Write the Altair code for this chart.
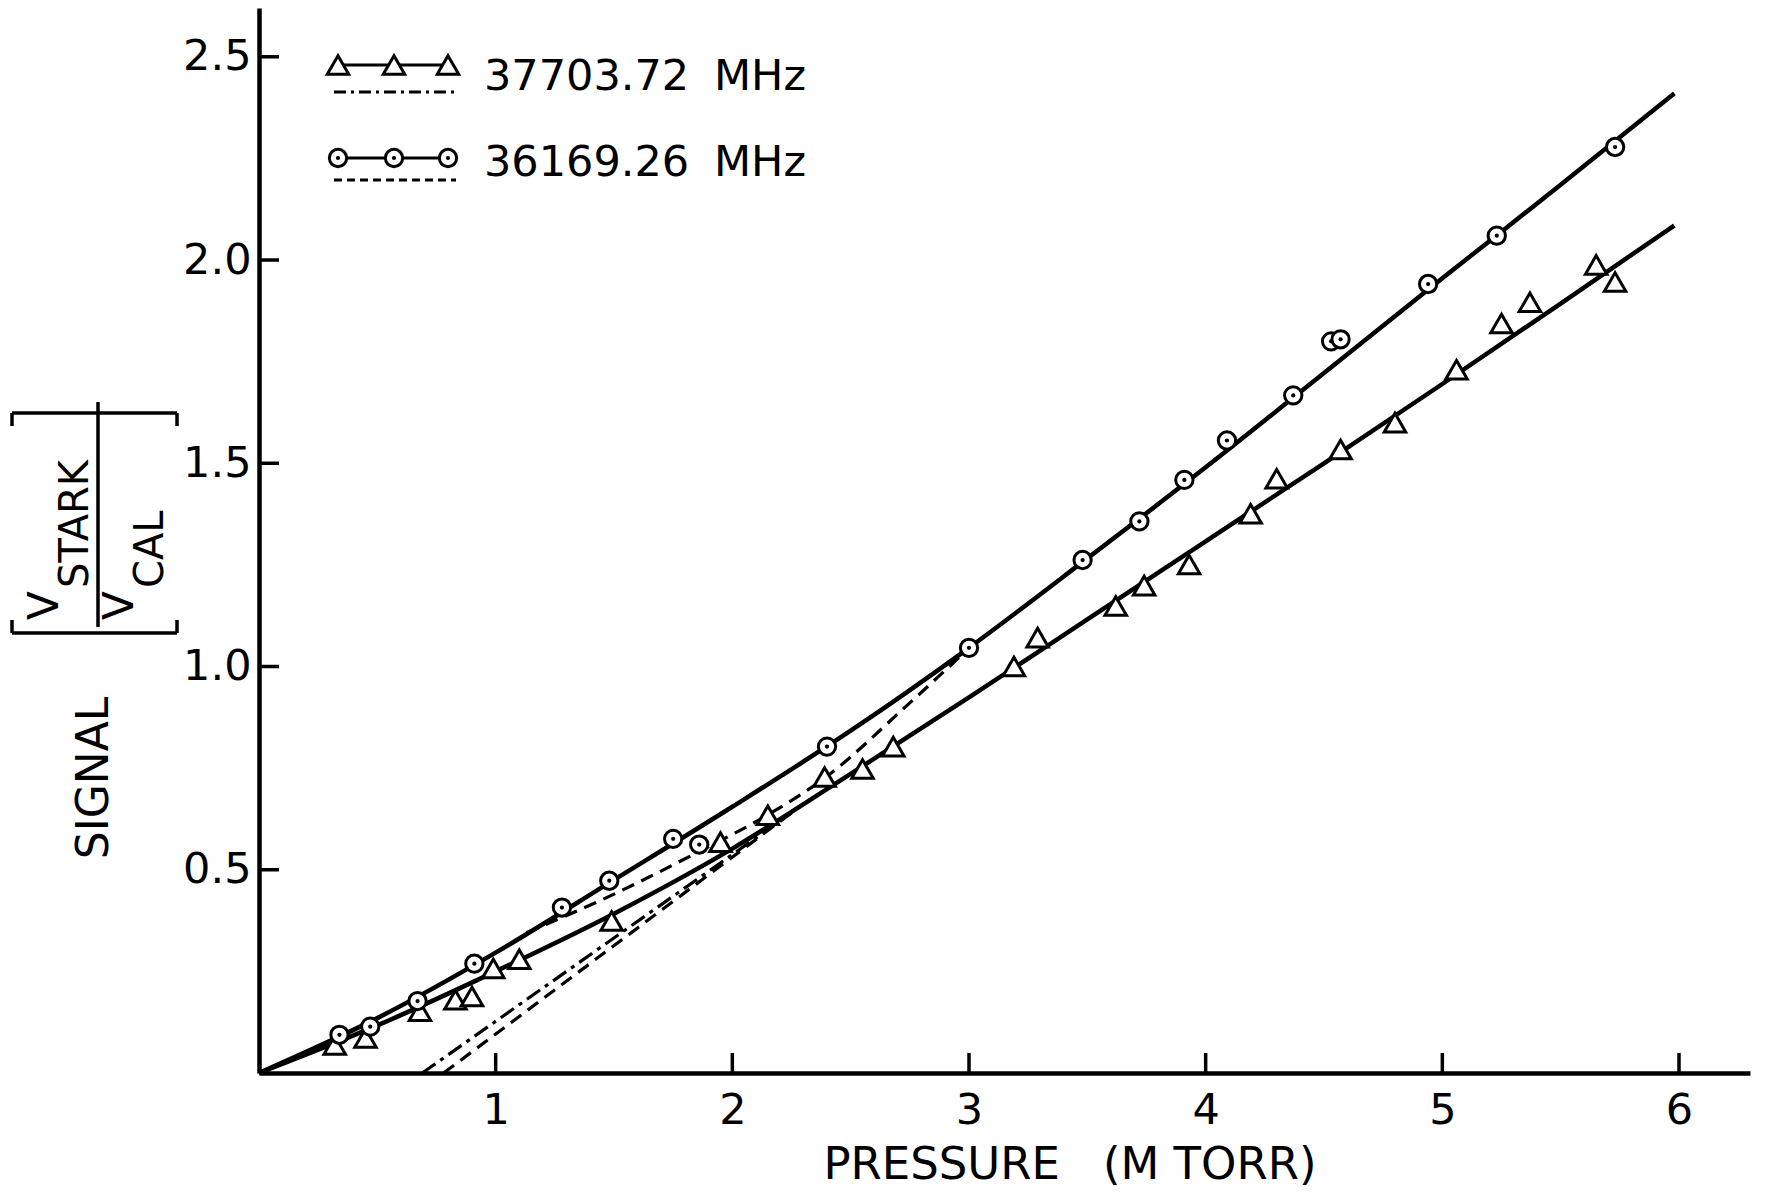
import altair as alt
import pandas as pd

# ---------------- data ----------------
# 36169.26 MHz  (circles)
circ_p = [0.34, 0.47, 0.67, 0.91, 1.28, 1.48, 1.75, 1.86, 2.40, 3.00, 3.48, 3.72, 3.91,
          4.09, 4.37, 4.53, 4.57, 4.94, 5.23, 5.73]
circ_s = [0.094, 0.114, 0.177, 0.269, 0.407, 0.473, 0.576, 0.562, 0.803, 1.046, 1.262,
          1.357, 1.459, 1.556, 1.667, 1.800, 1.805, 1.941, 2.060, 2.278]

# 37703.72 MHz  (triangles)
tri_p = [0.32, 0.45, 0.68, 0.83, 0.90, 0.99, 1.10, 1.49, 1.95, 2.15, 2.39, 2.55, 2.68,
         3.19, 3.29, 3.62, 3.74, 3.93, 4.19, 4.30, 4.57, 4.80, 5.06, 5.25, 5.37, 5.65, 5.73]
tri_s = [0.069, 0.086, 0.152, 0.180, 0.188, 0.257, 0.280, 0.374, 0.568, 0.634, 0.728,
         0.748, 0.803, 1.000, 1.071, 1.149, 1.199, 1.251, 1.376, 1.462, 1.534, 1.600,
         1.730, 1.844, 1.896, 1.988, 1.946]

# smooth curves drawn through the points
circ_curve_p = [0, 0.5, 1.0, 1.5, 2.0, 2.5, 3.0, 3.5, 4.0, 4.5, 5.0, 5.5, 5.98]
circ_curve_s = [0, 0.135, 0.296, 0.475, 0.655, 0.842, 1.046, 1.266, 1.490, 1.722, 1.955, 2.185, 2.410]
tri_curve_p = [0, 0.5, 1.0, 1.5, 2.0, 2.5, 3.0, 3.5, 4.0, 4.5, 5.0, 5.5, 5.98]
tri_curve_s = [0, 0.117, 0.250, 0.392, 0.552, 0.736, 0.924, 1.116, 1.308, 1.500, 1.695, 1.893, 2.085]

# dashed (36169.26) and dash-dot (37703.72) construction lines
dashA_p = [1.13, 1.50, 1.86, 2.15, 2.40, 2.73, 3.00]
dashA_s = [0.345, 0.440, 0.545, 0.635, 0.730, 0.900, 1.045]
dashB_p = [0.78, 2.25]
dashB_s = [0.0, 0.64]
dashdot_p = [0.69, 2.25]
dashdot_s = [0.0, 0.64]

x_ticks = [1, 2, 3, 4, 5, 6]
y_ticks = [0.5, 1.0, 1.5, 2.0, 2.5]

legend_labels = ["37703.72", "36169.26"]
legend_unit = "MHz"
x_title = "PRESSURE\u00a0\u00a0\u00a0(M\u00a0TORR)"

# ---------------- chart ----------------
W, H = 1491, 1065
FONT = "DejaVu Sans"
xs = alt.Scale(domain=[0, 6.3], nice=False, zero=False)
ys = alt.Scale(domain=[0, 2.62], nice=False, zero=False)
XA = alt.Axis(values=x_ticks, format="d", title=None, grid=False, ticks=False,
              tickSize=0, domainWidth=4.5, domainColor="black", labelFont=FONT,
              labelFontSize=43, labelColor="black", labelPadding=16, labelFlush=False)
YA = alt.Axis(values=y_ticks, format=".1f", title=None, grid=False, ticks=False,
              tickSize=0, domainWidth=4.5, domainColor="black", labelFont=FONT,
              labelFontSize=43, labelColor="black", labelPadding=8, labelFlush=False)
one = pd.DataFrame({"k": [0]})

TRI_SIZE = 460
CIRC_SIZE = 300


def curve(px, py, dash=None, width=4.0):
    df = pd.DataFrame({"p": px, "s": py})
    kw = dict(color="black", strokeWidth=width, interpolate="monotone")
    if dash:
        kw["strokeDash"] = dash
    return alt.Chart(df).mark_line(**kw).encode(
        x=alt.X("p:Q", scale=xs, axis=XA),
        y=alt.Y("s:Q", scale=ys, axis=YA),
    )


def hrule(x1, x2, y, w=3.5, dash=None):
    kw = dict(color="black", strokeWidth=w)
    if dash:
        kw["strokeDash"] = dash
    return alt.Chart(one).mark_rule(**kw).encode(
        x=alt.value(x1), x2=alt.value(x2), y=alt.value(y))


def vrule(x, y1, y2, w=3.5):
    return alt.Chart(one).mark_rule(color="black", strokeWidth=w).encode(
        x=alt.value(x), y=alt.value(y1), y2=alt.value(y2))


def label(text, x, y, size, angle=0, align="left", baseline="alphabetic"):
    return alt.Chart(one).mark_text(
        text=text, font=FONT, fontSize=size, angle=angle, align=align,
        baseline=baseline, color="black").encode(x=alt.value(x), y=alt.value(y))


layers = []
layers.append(curve(circ_curve_p, circ_curve_s, width=4.5))
layers.append(curve(tri_curve_p, tri_curve_s, width=4.5))
layers.append(curve(dashA_p, dashA_s, dash=[13, 8], width=3.2))
layers.append(curve(dashB_p, dashB_s, dash=[13, 8], width=3.2))
layers.append(curve(dashdot_p, dashdot_s, dash=[16, 6, 4, 6], width=3.2))

# inward ticks
layers.append(alt.Chart(pd.DataFrame({"t": x_ticks})).mark_rule(color="black", strokeWidth=3.5).encode(
    x=alt.X("t:Q", scale=xs, axis=XA), y=alt.value(H), y2=alt.value(H - 20)))
layers.append(alt.Chart(pd.DataFrame({"t": y_ticks})).mark_rule(color="black", strokeWidth=3.5).encode(
    y=alt.Y("t:Q", scale=ys, axis=YA), x=alt.value(0), x2=alt.value(20)))

# markers
df_c = pd.DataFrame({"p": circ_p, "s": circ_s})
df_t = pd.DataFrame({"p": tri_p, "s": tri_s})
enc = dict(x=alt.X("p:Q", scale=xs, axis=XA), y=alt.Y("s:Q", scale=ys, axis=YA))
layers.append(alt.Chart(df_t).mark_point(shape="triangle-up", filled=True, fill="white",
                                         stroke="black", strokeWidth=3, size=TRI_SIZE, opacity=1).encode(**enc))
layers.append(alt.Chart(df_c).mark_point(shape="circle", filled=True, fill="white",
                                         stroke="black", strokeWidth=3, size=CIRC_SIZE, opacity=1).encode(**enc))
layers.append(alt.Chart(df_c).mark_point(shape="circle", filled=True, color="black",
                                         size=18, opacity=1).encode(**enc))

# legend
leg_x = pd.DataFrame({"lx": [79, 135, 189]})
layers.append(hrule(79, 189, 57, w=3))
layers.append(alt.Chart(leg_x).mark_point(shape="triangle-up", filled=True, fill="white",
                                          stroke="black", strokeWidth=3, size=TRI_SIZE, opacity=1).encode(
    x=alt.X("lx:Q", scale=None), y=alt.value(57)))
layers.append(hrule(75, 197, 84, w=3.2, dash=[12, 5, 3, 5]))
layers.append(hrule(79, 189, 150, w=3))
layers.append(alt.Chart(leg_x).mark_point(shape="circle", filled=True, fill="white",
                                          stroke="black", strokeWidth=3, size=CIRC_SIZE, opacity=1).encode(
    x=alt.X("lx:Q", scale=None), y=alt.value(150)))
layers.append(alt.Chart(leg_x).mark_point(shape="circle", filled=True, color="black",
                                          size=18, opacity=1).encode(
    x=alt.X("lx:Q", scale=None), y=alt.value(150)))
layers.append(hrule(75, 197, 172, w=3.2, dash=[8, 5]))
layers.append(label(legend_labels[0], 225, 69, 43, baseline="middle"))
layers.append(label(legend_unit, 455, 69, 43, baseline="middle"))
layers.append(label(legend_labels[1], 225, 155, 43, baseline="middle"))
layers.append(label(legend_unit, 455, 155, 43, baseline="middle"))

# x title
layers.append(label(x_title, 811, 1157, 45, align="center", baseline="middle"))

# y title: SIGNAL [ V_STARK / V_CAL ]
layers.append(label("SIGNAL", -151, 770, 44, angle=270, align="center"))
layers.append(label("V", -201, 612, 42, angle=270))
layers.append(label("STARK", -171, 580, 40, angle=270))
layers.append(label("V", -126, 612, 42, angle=270))
layers.append(label("CAL", -96, 580, 40, angle=270))
layers.append(vrule(-161, 394, 619))
layers.append(hrule(-247, -82, 405))
layers.append(vrule(-247, 405, 418))
layers.append(vrule(-82, 405, 418))
layers.append(hrule(-247, -82, 625))
layers.append(vrule(-247, 612, 625))
layers.append(vrule(-82, 612, 625))

chart = alt.layer(*layers).properties(
    width=W, height=H,
    autosize=alt.AutoSizeParams(type="none"),
    padding={"left": 259, "top": 8, "right": 15, "bottom": 123},
    background="white",
).configure_view(stroke=None)

chart.save("out.html", embed_options={"renderer": "svg", "actions": False})
